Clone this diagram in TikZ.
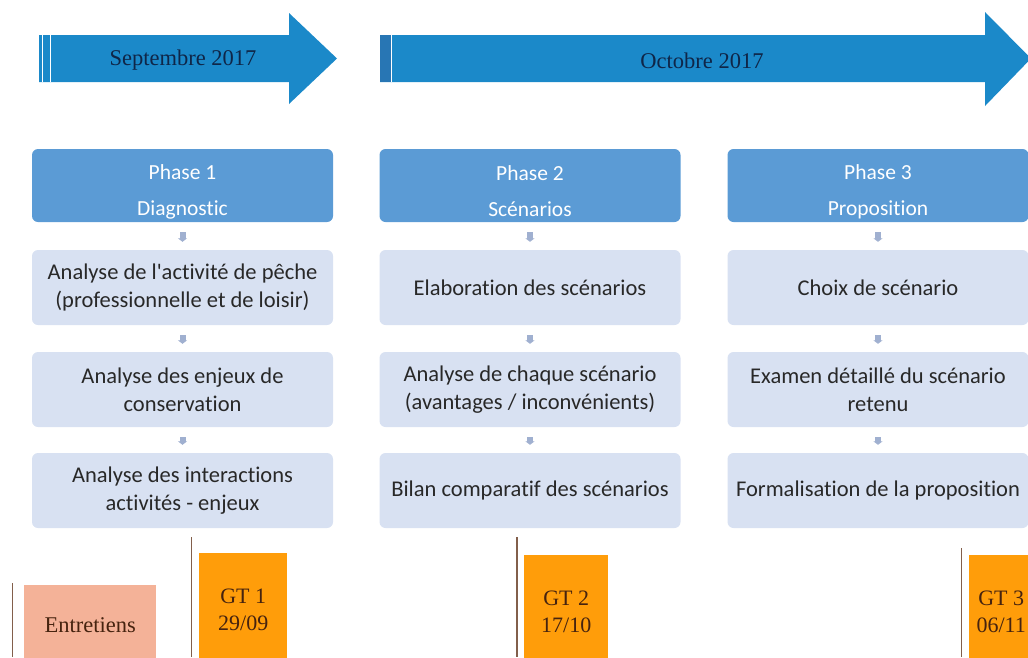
\documentclass[tikz,border=0pt]{standalone}
\usepackage{fontspec}
\setmainfont{Liberation Serif}
\newfontfamily\calib[Ligatures={NoCommon,NoRare}]{Carlito}
\usetikzlibrary{arrows.meta}
\definecolor{arrowblue}{RGB}{27,137,201}
\definecolor{stripeblue}{RGB}{40,118,180}
\definecolor{headblue}{RGB}{91,155,213}
\definecolor{lightbox}{RGB}{216,225,242}
\definecolor{connblue}{RGB}{160,176,208}
\definecolor{navytext}{RGB}{15,38,72}
\definecolor{salmon}{RGB}{244,178,152}
\definecolor{gtorange}{RGB}{255,157,10}
\definecolor{browntext}{RGB}{70,35,15}
\definecolor{markline}{RGB}{130,95,75}
\definecolor{boxtext}{RGB}{40,40,40}
\newcommand{\hdrtext}[2]{\raisebox{-6pt}[\height][\depth]{\parbox{290pt}{\centering #1\\#2}}}
\newcommand{\gttext}[3]{\raisebox{-1.5pt}[\height][\depth]{\parbox{#1}{\centering #2\\#3}}}
\tikzset{
  hdr/.style={fill=headblue, rounded corners=6pt, minimum width=301pt, minimum height=73pt,
    inner sep=0pt, text=white, align=center, font=\calib\fontsize{21.5}{36}\selectfont},
  stepbox/.style={fill=lightbox, rounded corners=6pt, minimum width=301pt, minimum height=75pt,
    inner sep=0pt, text=boxtext, align=center, font=\calib\fontsize{22.5}{28}\selectfont},
  conn/.style={draw=connblue, line width=6pt, -{Triangle[width=9pt,length=3.5pt]}, shorten >=0pt},
  monthtext/.style={text=navytext, font=\fontsize{22.5}{26}\selectfont},
  gtbox/.style={fill=gtorange, minimum width=88pt, minimum height=110pt, inner sep=0pt, anchor=north west,
    text=browntext, align=center, font=\fontsize{22}{27}\selectfont},
  marker/.style={draw=markline, line width=1.6pt}
}
\begin{document}
\begin{tikzpicture}[x=1pt,y=-1pt]
\useasboundingbox (0,0) rectangle (1028,657);
% month arrows
\fill[arrowblue] (39,35) -- (289,35) -- (289,13) -- (337,58.5) -- (289,104) -- (289,82) -- (39,82) -- cycle;
\draw[white, line width=0.9pt] (42.7,35) -- (42.7,82) (50.7,35) -- (50.7,82);
\node[monthtext] (sept) at (183,60.5) {Septembre 2017};
\fill[arrowblue] (380,35) -- (985,35) -- (985,12) -- (1031,58.5) -- (985,106) -- (985,82) -- (380,82) -- cycle;
\fill[stripeblue] (380,35) rectangle (391,82);
\draw[white, line width=0.9pt] (391.5,35) -- (391.5,82);
\node[monthtext] (oct) at (702,61) {Octobre 2017};
% column 1
\node[hdr] (h1) at (182.5,185.5) {\hdrtext{Phase 1}{Diagnostic}};
\node[stepbox] (a1) at (182.5,287.5) {Analyse de l'activité de pêche\\(professionnelle et de loisir)};
\node[stepbox] (a2) at (182.5,389.5) {Analyse des enjeux de\\conservation};
\node[stepbox] (a3) at (182.5,490.5) {Analyse des interactions\\activités - enjeux};
% column 2
\node[hdr] (h2) at (530,185.5) {\hdrtext{Phase 2}{Scénarios}};
\node[stepbox] (b1) at (530,287.5) {Elaboration des scénarios};
\node[stepbox] (b2) at (530,389.5) {Analyse de chaque scénario\\(avantages / inconvénients)};
\node[stepbox] (b3) at (530,490.5) {Bilan comparatif des scénarios};
% column 3
\node[hdr] (h3) at (878,185.5) {\hdrtext{Phase 3}{Proposition}};
\node[stepbox] (c1) at (878,287.5) {Choix de scénario};
\node[stepbox] (c2) at (878,389.5) {Examen détaillé du scénario\\retenu};
\node[stepbox] (c3) at (878,490.5) {Formalisation de la proposition};
% connectors
\foreach \u/\v in {h1/a1,a1/a2,a2/a3,h2/b1,b1/b2,b2/b3,h3/c1,c1/c2,c2/c3}{
  \draw[conn] ([yshift=-10pt]\u.south) -- ([yshift=8pt]\v.north);
}
% bottom
\node[fill=salmon, minimum width=132pt, minimum height=80pt, inner sep=0pt, anchor=north west,
  text=browntext, font=\fontsize{22.5}{27}\selectfont] (ent) at (24,585) {Entretiens};
\coordinate (l0t) at (12.5,583); \coordinate (l0b) at (12.5,657);
\draw[marker] (l0t) -- (l0b);
\node[gtbox] (gt1) at (199,553) {\gttext{80pt}{GT 1}{29/09}};
\coordinate (l1t) at (191.5,537); \coordinate (l1b) at (191.5,657);
\draw[marker] (l1t) -- (l1b);
\node[gtbox, minimum width=84pt] (gt2) at (524,555) {\gttext{80pt}{GT 2}{17/10}};
\coordinate (l2t) at (517,537); \coordinate (l2b) at (517,657);
\draw[marker] (l2t) -- (l2b);
\node[gtbox, minimum width=64pt] (gt3) at (969,555) {\gttext{60pt}{GT 3}{06/11}};
\coordinate (l3t) at (961.5,548); \coordinate (l3b) at (961.5,657);
\draw[marker] (l3t) -- (l3b);
\end{tikzpicture}
\end{document}
